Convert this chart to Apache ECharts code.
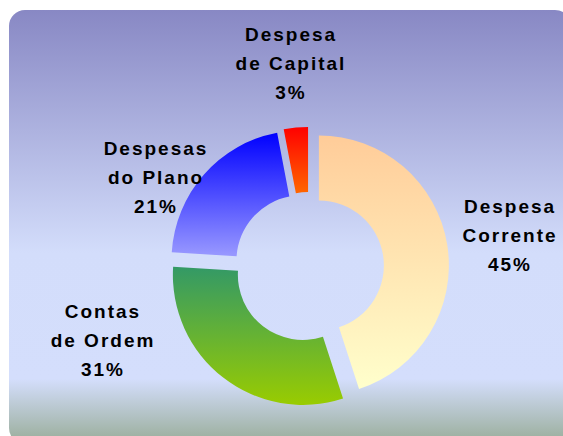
<!DOCTYPE html>
<html>
<head>
<meta charset="utf-8">
<script src="https://cdn.jsdelivr.net/npm/echarts@6/dist/echarts.min.js"></script>
<style>
  html, body { margin: 0; padding: 0; background: #ffffff; }
  #chart { width: 563px; height: 436px; }
  #chart text { letter-spacing: 2px; }
</style>
</head>
<body>
<div id="chart"></div>
<script>
// Budget breakdown (share of total, %)
const categories = ['Despesa\nCorrente', 'Contas\nde Ordem', 'Despesas\ndo Plano', 'Despesa\nde Capital'];
const shares = [45, 31, 21, 3];

// Vertical fill gradient for each slice: top colour -> bottom colour
const sliceTop = ['#FFCC99', '#339966', '#0000FF', '#FF0000'];
const sliceBottom = ['#FFFFCC', '#99CC00', '#9999FF', '#FF6600'];

// Where each slice's label block is centred
const labelAnchors = [[510, 235], [103, 340], [156, 177], [291, 63]];

function sliceFill(i) {
  return new echarts.graphic.LinearGradient(0, 0, 0, 1, [
    { offset: 0, color: sliceTop[i] },
    { offset: 1, color: sliceBottom[i] }
  ]);
}

const panel = {
  type: 'rect',
  silent: true,
  z: 0,
  shape: { x: 9, y: 10, width: 562, height: 434, r: 16 },
  style: {
    fill: new echarts.graphic.LinearGradient(0, 0, 0, 1, [
      { offset: 0, color: '#8888C4' },
      { offset: 0.56, color: '#D3DDFB' },
      { offset: 0.85, color: '#D4DEFC' },
      { offset: 1, color: '#98AC98' }
    ])
  }
};

// Slice labels: category name followed by its share
const sliceLabels = categories.map(function (name, i) {
  return {
    type: 'text',
    silent: true,
    z: 10,
    x: labelAnchors[i][0],
    y: labelAnchors[i][1],
    style: {
      text: name + '\n' + shares[i] + '%',
      fill: '#000000',
      fontFamily: '"Liberation Sans", Arial, sans-serif',
      fontWeight: 'bold',
      fontSize: 19,
      lineHeight: 29,
      align: 'center',
      verticalAlign: 'middle',
      textAlign: 'center',
      textVerticalAlign: 'middle'
    }
  };
});

const chart = echarts.init(document.getElementById('chart'), null, { renderer: 'svg' });

chart.setOption({
  backgroundColor: '#ffffff',
  animation: false,
  graphic: [panel].concat(sliceLabels),
  series: [{
    type: 'pie',
    z: 5,
    center: [309, 267],
    radius: [65, 130],
    startAngle: 90,
    clockwise: true,
    selectedMode: 'multiple',
    selectedOffset: 10,
    emphasis: { disabled: true },
    label: { show: false },
    labelLine: { show: false },
    data: categories.map(function (name, i) {
      return {
        name: name,
        value: shares[i],
        selected: true,
        itemStyle: { color: sliceFill(i), borderWidth: 0 },
        select: { itemStyle: { color: sliceFill(i), borderWidth: 0 } }
      };
    })
  }]
});
</script>
</body>
</html>
